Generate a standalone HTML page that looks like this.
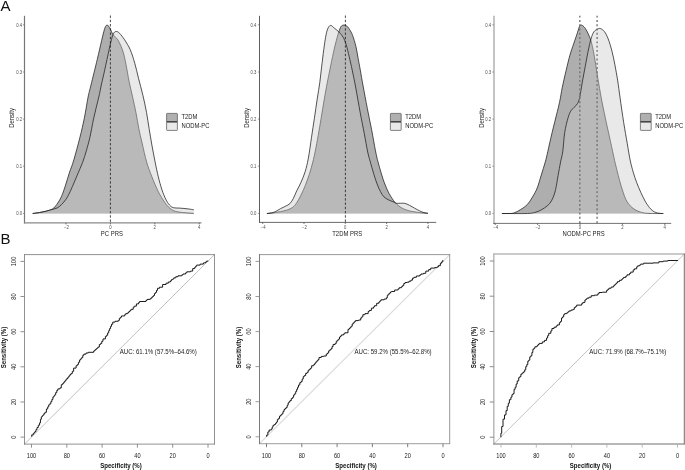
<!DOCTYPE html>
<html><head><meta charset="utf-8"><title>Figure</title>
<style>html,body{margin:0;padding:0;background:#fff;}body{width:685px;height:470px;overflow:hidden;font-family:"Liberation Sans",sans-serif;}</style></head>
<body>
<svg width="685" height="470" viewBox="0 0 685 470" style="display:block;will-change:transform">
<rect width="685" height="470" fill="#fff"/>
<g font-family="'Liberation Sans', sans-serif">
<text transform="translate(0.60 11.20)" font-size="15" fill="#111" text-anchor="start">A</text>
<text transform="translate(0.50 244.00)" font-size="15" fill="#111" text-anchor="start">B</text>
<path d="M32.7 213.5C34.2 213.3 39.0 212.7 42.0 212.1C45.0 211.5 48.4 210.8 50.5 209.9C52.6 209.1 53.4 208.5 54.8 207.0C56.2 205.5 57.7 203.2 59.0 201.1C60.3 199.0 61.2 197.2 62.4 194.3C63.5 191.5 64.7 187.7 65.9 184.0C67.1 180.3 68.3 176.1 69.6 172.1C70.9 168.1 72.1 165.8 73.8 160.0C75.5 154.2 78.2 144.3 79.9 137.4C81.7 130.5 82.9 125.0 84.3 118.3C85.7 111.6 87.0 102.5 88.1 97.0C89.2 91.5 89.5 91.2 91.0 85.0C92.5 78.8 95.4 67.2 97.2 59.7C99.0 52.2 100.5 45.3 101.7 40.3C102.9 35.3 103.6 32.2 104.3 29.8C105.0 27.4 105.3 26.8 105.8 26.0C106.3 25.2 106.8 25.1 107.3 25.2C107.8 25.3 108.4 25.8 108.9 26.4C109.4 27.0 109.9 28.0 110.4 29.1C111.0 30.2 111.5 32.0 112.2 33.2C112.9 34.5 113.8 35.4 114.8 36.6C115.8 37.8 117.0 38.2 118.3 40.6C119.6 43.0 121.5 47.0 122.8 51.0C124.1 55.0 125.0 59.4 126.0 64.5C127.0 69.6 128.0 76.0 129.1 81.5C130.2 87.0 131.6 92.3 132.7 97.4C133.8 102.5 134.9 107.1 135.9 112.3C136.9 117.5 137.8 123.4 138.8 128.5C139.8 133.6 140.8 137.4 142.1 143.0C143.4 148.6 145.0 156.3 146.6 161.9C148.2 167.5 149.9 171.8 151.9 176.8C153.9 181.8 156.2 187.4 158.3 191.7C160.4 195.9 162.8 199.5 164.7 202.3C166.6 205.1 168.2 206.8 170.0 208.3C171.8 209.8 173.0 210.6 175.3 211.3C177.6 212.0 180.7 212.3 183.8 212.6C186.9 212.9 192.1 213.2 193.8 213.3L193.8 213.5L32.7 213.5Z" fill="#aeaeae"/>
<path d="M32.7 213.5C34.2 213.3 39.0 212.7 42.0 212.1C45.0 211.5 48.4 210.8 50.5 209.9C52.6 209.1 53.4 208.5 54.8 207.0C56.2 205.5 57.7 203.2 59.0 201.1C60.3 199.0 61.2 197.2 62.4 194.3C63.5 191.5 64.7 187.7 65.9 184.0C67.1 180.3 68.3 176.1 69.6 172.1C70.9 168.1 72.1 165.8 73.8 160.0C75.5 154.2 78.2 144.3 79.9 137.4C81.7 130.5 82.9 125.0 84.3 118.3C85.7 111.6 87.0 102.5 88.1 97.0C89.2 91.5 89.5 91.2 91.0 85.0C92.5 78.8 95.4 67.2 97.2 59.7C99.0 52.2 100.5 45.3 101.7 40.3C102.9 35.3 103.6 32.2 104.3 29.8C105.0 27.4 105.3 26.8 105.8 26.0C106.3 25.2 106.8 25.1 107.3 25.2C107.8 25.3 108.4 25.8 108.9 26.4C109.4 27.0 109.9 28.0 110.4 29.1C111.0 30.2 111.5 32.0 112.2 33.2C112.9 34.5 113.8 35.4 114.8 36.6C115.8 37.8 117.0 38.2 118.3 40.6C119.6 43.0 121.5 47.0 122.8 51.0C124.1 55.0 125.0 59.4 126.0 64.5C127.0 69.6 128.0 76.0 129.1 81.5C130.2 87.0 131.6 92.3 132.7 97.4C133.8 102.5 134.9 107.1 135.9 112.3C136.9 117.5 137.8 123.4 138.8 128.5C139.8 133.6 140.8 137.4 142.1 143.0C143.4 148.6 145.0 156.3 146.6 161.9C148.2 167.5 149.9 171.8 151.9 176.8C153.9 181.8 156.2 187.4 158.3 191.7C160.4 195.9 162.8 199.5 164.7 202.3C166.6 205.1 168.2 206.8 170.0 208.3C171.8 209.8 173.0 210.6 175.3 211.3C177.6 212.0 180.7 212.3 183.8 212.6C186.9 212.9 192.1 213.2 193.8 213.3" fill="none" stroke="#1c1c1c" stroke-width="0.75"/>
<path d="M32.7 213.5C34.2 213.3 39.0 212.7 42.0 212.1C45.0 211.5 48.0 210.6 50.5 209.9C53.0 209.2 55.4 208.8 57.3 207.9C59.1 207.0 60.2 205.9 61.6 204.5C63.0 203.1 64.6 201.2 65.9 199.4C67.2 197.6 68.0 196.0 69.3 193.4C70.6 190.8 72.1 187.3 73.5 184.0C74.9 180.7 76.3 177.4 77.8 173.8C79.3 170.2 81.1 166.4 82.6 162.5C84.0 158.6 85.3 154.4 86.5 150.2C87.7 146.0 88.7 142.7 89.9 137.4C91.1 132.1 92.2 125.0 93.7 118.3C95.2 111.6 97.5 102.5 98.8 97.0C100.1 91.5 100.3 89.5 101.3 85.0C102.3 80.5 103.4 76.0 104.7 70.1C106.0 64.1 108.0 54.8 109.2 49.3C110.4 43.8 111.3 40.1 112.1 37.3C112.9 34.5 113.3 33.6 114.1 32.6C114.8 31.6 115.7 31.4 116.6 31.5C117.5 31.6 118.4 32.0 119.7 33.4C121.0 34.8 122.8 37.1 124.6 39.8C126.3 42.5 128.5 45.7 130.2 49.6C131.9 53.5 133.4 58.6 134.8 63.4C136.2 68.2 137.2 73.0 138.5 78.3C139.8 83.6 141.6 89.6 142.9 95.3C144.2 101.0 145.5 106.8 146.5 112.3C147.5 117.8 148.2 123.2 149.1 128.5C150.0 133.8 150.7 138.4 151.7 144.0C152.7 149.6 154.0 156.4 155.1 161.9C156.2 167.4 157.2 172.2 158.3 176.8C159.4 181.4 160.7 185.9 161.9 189.6C163.1 193.3 164.4 196.5 165.7 199.1C166.9 201.7 168.2 203.5 169.4 204.9C170.7 206.3 171.5 207.2 173.2 207.7C174.9 208.2 177.1 207.9 179.6 208.1C182.1 208.3 185.7 208.6 188.1 208.9C190.5 209.2 192.9 209.7 193.8 209.8L193.8 213.5L32.7 213.5Z" fill="rgba(202,202,202,0.415)"/>
<path d="M32.7 213.5C34.2 213.3 39.0 212.7 42.0 212.1C45.0 211.5 48.0 210.6 50.5 209.9C53.0 209.2 55.4 208.8 57.3 207.9C59.1 207.0 60.2 205.9 61.6 204.5C63.0 203.1 64.6 201.2 65.9 199.4C67.2 197.6 68.0 196.0 69.3 193.4C70.6 190.8 72.1 187.3 73.5 184.0C74.9 180.7 76.3 177.4 77.8 173.8C79.3 170.2 81.1 166.4 82.6 162.5C84.0 158.6 85.3 154.4 86.5 150.2C87.7 146.0 88.7 142.7 89.9 137.4C91.1 132.1 92.2 125.0 93.7 118.3C95.2 111.6 97.5 102.5 98.8 97.0C100.1 91.5 100.3 89.5 101.3 85.0C102.3 80.5 103.4 76.0 104.7 70.1C106.0 64.1 108.0 54.8 109.2 49.3C110.4 43.8 111.3 40.1 112.1 37.3C112.9 34.5 113.3 33.6 114.1 32.6C114.8 31.6 115.7 31.4 116.6 31.5C117.5 31.6 118.4 32.0 119.7 33.4C121.0 34.8 122.8 37.1 124.6 39.8C126.3 42.5 128.5 45.7 130.2 49.6C131.9 53.5 133.4 58.6 134.8 63.4C136.2 68.2 137.2 73.0 138.5 78.3C139.8 83.6 141.6 89.6 142.9 95.3C144.2 101.0 145.5 106.8 146.5 112.3C147.5 117.8 148.2 123.2 149.1 128.5C150.0 133.8 150.7 138.4 151.7 144.0C152.7 149.6 154.0 156.4 155.1 161.9C156.2 167.4 157.2 172.2 158.3 176.8C159.4 181.4 160.7 185.9 161.9 189.6C163.1 193.3 164.4 196.5 165.7 199.1C166.9 201.7 168.2 203.5 169.4 204.9C170.7 206.3 171.5 207.2 173.2 207.7C174.9 208.2 177.1 207.9 179.6 208.1C182.1 208.3 185.7 208.6 188.1 208.9C190.5 209.2 192.9 209.7 193.8 209.8" fill="none" stroke="#1c1c1c" stroke-width="0.75"/>
<line x1="110.4" y1="15.5" x2="110.4" y2="223.4" stroke="#1a1a1a" stroke-width="0.8" stroke-dasharray="2.4 1.85"/>
<line x1="24.50" y1="15.8" x2="24.50" y2="223.47" stroke="#777777" stroke-width="1.2"/>
<line x1="23.90" y1="222.85" x2="201.50" y2="222.85" stroke="#8a8a8a" stroke-width="1.25"/>
<line x1="22.9" y1="213.4" x2="24.3" y2="213.4" stroke="#555" stroke-width="0.6"/>
<text transform="translate(19.20 215.30) scale(0.900 1)" font-size="4.7" fill="#4d4d4d" text-anchor="middle">0.0</text>
<line x1="22.9" y1="166.2" x2="24.3" y2="166.2" stroke="#555" stroke-width="0.6"/>
<text transform="translate(19.20 168.15) scale(0.900 1)" font-size="4.7" fill="#4d4d4d" text-anchor="middle">0.1</text>
<line x1="22.9" y1="119.1" x2="24.3" y2="119.1" stroke="#555" stroke-width="0.6"/>
<text transform="translate(19.20 121.00) scale(0.900 1)" font-size="4.7" fill="#4d4d4d" text-anchor="middle">0.2</text>
<line x1="22.9" y1="72.0" x2="24.3" y2="72.0" stroke="#555" stroke-width="0.6"/>
<text transform="translate(19.20 73.85) scale(0.900 1)" font-size="4.7" fill="#4d4d4d" text-anchor="middle">0.3</text>
<line x1="22.9" y1="24.8" x2="24.3" y2="24.8" stroke="#555" stroke-width="0.6"/>
<text transform="translate(19.20 26.70) scale(0.900 1)" font-size="4.7" fill="#4d4d4d" text-anchor="middle">0.4</text>
<line x1="66.0" y1="222.85" x2="66.0" y2="224.45" stroke="#444" stroke-width="0.7"/>
<text transform="translate(66.40 228.90) scale(0.900 1)" font-size="4.7" fill="#4d4d4d" text-anchor="middle">−2</text>
<line x1="110.4" y1="222.85" x2="110.4" y2="224.45" stroke="#444" stroke-width="0.7"/>
<text transform="translate(110.40 228.90) scale(0.900 1)" font-size="4.7" fill="#4d4d4d" text-anchor="middle">0</text>
<line x1="154.8" y1="222.85" x2="154.8" y2="224.45" stroke="#444" stroke-width="0.7"/>
<text transform="translate(154.80 228.90) scale(0.900 1)" font-size="4.7" fill="#4d4d4d" text-anchor="middle">2</text>
<line x1="199.2" y1="222.85" x2="199.2" y2="224.45" stroke="#444" stroke-width="0.7"/>
<text transform="translate(199.20 228.90) scale(0.900 1)" font-size="4.7" fill="#4d4d4d" text-anchor="middle">4</text>
<text transform="translate(111.90 235.50) scale(0.900 1)" font-size="6.6" fill="#222" text-anchor="middle">PC PRS</text>
<text transform="translate(14.20 117.90) rotate(-90) scale(0.900 1)" font-size="6.6" fill="#222" text-anchor="middle">Density</text>
<rect x="166.6" y="113.4" width="10.8" height="8.5" rx="0.6" fill="#b0b0b0" stroke="#505050" stroke-width="0.7"/>
<rect x="166.6" y="121.9" width="10.8" height="8.5" rx="0.6" fill="#e9e9e9" stroke="#505050" stroke-width="0.7"/>
<line x1="166.6" y1="121.9" x2="177.4" y2="121.9" stroke="#2a2a2a" stroke-width="0.95"/>
<text transform="translate(181.50 118.90) scale(0.900 1)" font-size="6.5" fill="#222" text-anchor="start">T2DM</text>
<text transform="translate(181.50 127.70) scale(0.900 1)" font-size="6.5" fill="#222" text-anchor="start">NODM-PC</text>
<path d="M266.9 213.5C268.0 213.4 271.4 213.1 273.7 212.8C276.0 212.5 278.2 212.1 280.5 211.6C282.8 211.1 285.3 210.6 287.3 209.9C289.3 209.2 290.8 208.7 292.4 207.5C294.0 206.3 295.3 204.9 296.7 202.8C298.1 200.7 299.6 197.9 301.0 195.1C302.4 192.2 303.8 189.2 305.2 185.7C306.6 182.1 308.2 177.8 309.5 173.8C310.8 169.9 311.8 165.8 312.8 162.0C313.8 158.2 314.4 155.3 315.3 150.9C316.2 146.5 317.2 140.9 318.2 135.5C319.2 130.1 320.1 124.4 321.1 118.3C322.1 112.2 323.3 105.1 324.3 99.1C325.3 93.1 326.4 87.3 327.3 82.5C328.2 77.7 328.8 75.1 329.8 70.1C330.8 65.0 332.3 57.7 333.5 52.2C334.7 46.7 336.2 41.0 337.2 37.3C338.2 33.6 338.8 32.0 339.4 30.2C340.0 28.4 340.5 27.4 341.0 26.6C341.5 25.8 342.0 25.6 342.6 25.3C343.2 25.1 344.0 25.0 344.6 25.1C345.2 25.2 345.8 25.5 346.3 25.8C346.9 26.1 347.3 26.5 347.9 27.1C348.5 27.8 348.9 28.3 349.7 29.7C350.5 31.1 351.6 32.6 352.6 35.4C353.6 38.2 355.0 42.5 355.9 46.3C356.8 50.1 357.4 54.2 358.1 58.2C358.8 62.2 359.5 65.5 360.3 70.1C361.1 74.7 361.9 79.6 363.1 86.0C364.3 92.4 365.9 101.0 367.3 108.3C368.7 115.6 370.2 122.5 371.6 129.6C373.0 136.7 374.4 145.5 375.5 150.9C376.6 156.3 377.0 158.1 378.0 161.9C379.0 165.7 380.3 170.1 381.4 173.8C382.5 177.5 383.5 180.7 384.8 184.0C386.1 187.3 387.6 190.7 389.0 193.4C390.4 196.1 392.0 198.4 393.3 200.2C394.6 202.0 395.4 202.9 396.7 204.1C398.0 205.3 399.4 206.5 401.0 207.5C402.6 208.5 404.1 209.2 406.1 209.9C408.1 210.6 410.6 211.2 412.9 211.6C415.2 212.0 417.2 212.3 419.7 212.6C422.2 212.9 426.5 213.2 427.9 213.3L427.9 213.5L266.9 213.5Z" fill="#aeaeae"/>
<path d="M266.9 213.5C268.0 213.4 271.4 213.1 273.7 212.8C276.0 212.5 278.2 212.1 280.5 211.6C282.8 211.1 285.3 210.6 287.3 209.9C289.3 209.2 290.8 208.7 292.4 207.5C294.0 206.3 295.3 204.9 296.7 202.8C298.1 200.7 299.6 197.9 301.0 195.1C302.4 192.2 303.8 189.2 305.2 185.7C306.6 182.1 308.2 177.8 309.5 173.8C310.8 169.9 311.8 165.8 312.8 162.0C313.8 158.2 314.4 155.3 315.3 150.9C316.2 146.5 317.2 140.9 318.2 135.5C319.2 130.1 320.1 124.4 321.1 118.3C322.1 112.2 323.3 105.1 324.3 99.1C325.3 93.1 326.4 87.3 327.3 82.5C328.2 77.7 328.8 75.1 329.8 70.1C330.8 65.0 332.3 57.7 333.5 52.2C334.7 46.7 336.2 41.0 337.2 37.3C338.2 33.6 338.8 32.0 339.4 30.2C340.0 28.4 340.5 27.4 341.0 26.6C341.5 25.8 342.0 25.6 342.6 25.3C343.2 25.1 344.0 25.0 344.6 25.1C345.2 25.2 345.8 25.5 346.3 25.8C346.9 26.1 347.3 26.5 347.9 27.1C348.5 27.8 348.9 28.3 349.7 29.7C350.5 31.1 351.6 32.6 352.6 35.4C353.6 38.2 355.0 42.5 355.9 46.3C356.8 50.1 357.4 54.2 358.1 58.2C358.8 62.2 359.5 65.5 360.3 70.1C361.1 74.7 361.9 79.6 363.1 86.0C364.3 92.4 365.9 101.0 367.3 108.3C368.7 115.6 370.2 122.5 371.6 129.6C373.0 136.7 374.4 145.5 375.5 150.9C376.6 156.3 377.0 158.1 378.0 161.9C379.0 165.7 380.3 170.1 381.4 173.8C382.5 177.5 383.5 180.7 384.8 184.0C386.1 187.3 387.6 190.7 389.0 193.4C390.4 196.1 392.0 198.4 393.3 200.2C394.6 202.0 395.4 202.9 396.7 204.1C398.0 205.3 399.4 206.5 401.0 207.5C402.6 208.5 404.1 209.2 406.1 209.9C408.1 210.6 410.6 211.2 412.9 211.6C415.2 212.0 417.2 212.3 419.7 212.6C422.2 212.9 426.5 213.2 427.9 213.3" fill="none" stroke="#1c1c1c" stroke-width="0.75"/>
<path d="M266.9 213.5C267.6 213.4 269.8 213.3 271.2 213.0C272.6 212.7 273.8 212.3 275.4 211.6C276.9 210.9 278.8 209.6 280.5 208.7C282.2 207.8 284.0 207.0 285.6 206.2C287.2 205.3 288.6 204.9 289.9 203.6C291.2 202.3 292.2 200.6 293.3 198.5C294.4 196.4 295.4 193.6 296.7 190.9C298.0 188.2 299.6 185.5 301.0 182.3C302.4 179.1 304.0 175.5 305.2 171.5C306.4 167.5 307.2 164.2 308.3 158.5C309.4 152.8 310.5 144.1 311.5 137.4C312.5 130.7 313.4 124.7 314.4 118.3C315.3 111.9 316.3 105.1 317.2 99.1C318.1 93.1 319.1 87.8 319.8 82.5C320.5 77.2 320.9 72.6 321.6 67.1C322.3 61.6 323.1 54.3 323.8 49.3C324.5 44.3 325.0 40.7 325.6 37.3C326.2 33.9 326.8 31.1 327.6 29.1C328.4 27.1 329.4 25.6 330.5 25.4C331.6 25.2 332.9 27.0 334.3 28.1C335.7 29.2 337.5 30.6 339.0 32.1C340.5 33.6 342.0 35.2 343.2 37.3C344.4 39.4 345.2 41.6 346.2 44.8C347.2 48.0 348.2 52.5 349.2 56.7C350.2 60.9 351.1 64.9 352.2 70.1C353.3 75.3 354.5 80.9 355.8 88.0C357.1 95.1 358.8 105.0 360.2 112.6C361.6 120.2 363.1 127.2 364.3 133.8C365.6 140.4 366.7 147.3 367.7 152.0C368.7 156.7 369.3 158.3 370.3 161.9C371.3 165.5 372.6 170.1 373.7 173.8C374.8 177.5 376.0 181.0 377.1 184.0C378.2 187.0 379.4 189.6 380.5 191.7C381.6 193.8 382.6 195.5 383.9 196.8C385.2 198.1 386.6 198.8 388.2 199.7C389.8 200.5 391.9 201.3 393.3 201.9C394.7 202.5 394.9 203.1 396.7 203.3C398.5 203.5 402.3 203.0 404.4 203.3C406.5 203.6 407.8 204.5 409.5 205.3C411.2 206.1 412.9 207.3 414.6 208.2C416.3 209.1 418.1 210.2 419.7 210.9C421.2 211.6 422.5 212.2 423.9 212.6C425.3 213.0 427.2 213.2 427.9 213.3L427.9 213.5L266.9 213.5Z" fill="rgba(202,202,202,0.415)"/>
<path d="M266.9 213.5C267.6 213.4 269.8 213.3 271.2 213.0C272.6 212.7 273.8 212.3 275.4 211.6C276.9 210.9 278.8 209.6 280.5 208.7C282.2 207.8 284.0 207.0 285.6 206.2C287.2 205.3 288.6 204.9 289.9 203.6C291.2 202.3 292.2 200.6 293.3 198.5C294.4 196.4 295.4 193.6 296.7 190.9C298.0 188.2 299.6 185.5 301.0 182.3C302.4 179.1 304.0 175.5 305.2 171.5C306.4 167.5 307.2 164.2 308.3 158.5C309.4 152.8 310.5 144.1 311.5 137.4C312.5 130.7 313.4 124.7 314.4 118.3C315.3 111.9 316.3 105.1 317.2 99.1C318.1 93.1 319.1 87.8 319.8 82.5C320.5 77.2 320.9 72.6 321.6 67.1C322.3 61.6 323.1 54.3 323.8 49.3C324.5 44.3 325.0 40.7 325.6 37.3C326.2 33.9 326.8 31.1 327.6 29.1C328.4 27.1 329.4 25.6 330.5 25.4C331.6 25.2 332.9 27.0 334.3 28.1C335.7 29.2 337.5 30.6 339.0 32.1C340.5 33.6 342.0 35.2 343.2 37.3C344.4 39.4 345.2 41.6 346.2 44.8C347.2 48.0 348.2 52.5 349.2 56.7C350.2 60.9 351.1 64.9 352.2 70.1C353.3 75.3 354.5 80.9 355.8 88.0C357.1 95.1 358.8 105.0 360.2 112.6C361.6 120.2 363.1 127.2 364.3 133.8C365.6 140.4 366.7 147.3 367.7 152.0C368.7 156.7 369.3 158.3 370.3 161.9C371.3 165.5 372.6 170.1 373.7 173.8C374.8 177.5 376.0 181.0 377.1 184.0C378.2 187.0 379.4 189.6 380.5 191.7C381.6 193.8 382.6 195.5 383.9 196.8C385.2 198.1 386.6 198.8 388.2 199.7C389.8 200.5 391.9 201.3 393.3 201.9C394.7 202.5 394.9 203.1 396.7 203.3C398.5 203.5 402.3 203.0 404.4 203.3C406.5 203.6 407.8 204.5 409.5 205.3C411.2 206.1 412.9 207.3 414.6 208.2C416.3 209.1 418.1 210.2 419.7 210.9C421.2 211.6 422.5 212.2 423.9 212.6C425.3 213.0 427.2 213.2 427.9 213.3" fill="none" stroke="#1c1c1c" stroke-width="0.75"/>
<line x1="345.4" y1="15.5" x2="345.4" y2="223.4" stroke="#1a1a1a" stroke-width="0.8" stroke-dasharray="2.4 1.85"/>
<line x1="259.50" y1="15.8" x2="259.50" y2="222.88" stroke="#5e5e5e" stroke-width="1.0"/>
<line x1="259.00" y1="222.40" x2="436.20" y2="222.40" stroke="#626262" stroke-width="0.95"/>
<line x1="257.9" y1="213.4" x2="259.3" y2="213.4" stroke="#555" stroke-width="0.6"/>
<text transform="translate(253.50 215.30) scale(0.900 1)" font-size="4.7" fill="#4d4d4d" text-anchor="middle">0.0</text>
<line x1="257.9" y1="166.2" x2="259.3" y2="166.2" stroke="#555" stroke-width="0.6"/>
<text transform="translate(253.50 168.15) scale(0.900 1)" font-size="4.7" fill="#4d4d4d" text-anchor="middle">0.1</text>
<line x1="257.9" y1="119.1" x2="259.3" y2="119.1" stroke="#555" stroke-width="0.6"/>
<text transform="translate(253.50 121.00) scale(0.900 1)" font-size="4.7" fill="#4d4d4d" text-anchor="middle">0.2</text>
<line x1="257.9" y1="72.0" x2="259.3" y2="72.0" stroke="#555" stroke-width="0.6"/>
<text transform="translate(253.50 73.85) scale(0.900 1)" font-size="4.7" fill="#4d4d4d" text-anchor="middle">0.3</text>
<line x1="257.9" y1="24.8" x2="259.3" y2="24.8" stroke="#555" stroke-width="0.6"/>
<text transform="translate(253.50 26.70) scale(0.900 1)" font-size="4.7" fill="#4d4d4d" text-anchor="middle">0.4</text>
<line x1="262.7" y1="222.40" x2="262.7" y2="224.00" stroke="#444" stroke-width="0.7"/>
<text transform="translate(263.10 228.90) scale(0.900 1)" font-size="4.7" fill="#4d4d4d" text-anchor="middle">−4</text>
<line x1="304.0" y1="222.40" x2="304.0" y2="224.00" stroke="#444" stroke-width="0.7"/>
<text transform="translate(304.40 228.90) scale(0.900 1)" font-size="4.7" fill="#4d4d4d" text-anchor="middle">−2</text>
<line x1="345.3" y1="222.40" x2="345.3" y2="224.00" stroke="#444" stroke-width="0.7"/>
<text transform="translate(345.30 228.90) scale(0.900 1)" font-size="4.7" fill="#4d4d4d" text-anchor="middle">0</text>
<line x1="386.6" y1="222.40" x2="386.6" y2="224.00" stroke="#444" stroke-width="0.7"/>
<text transform="translate(386.60 228.90) scale(0.900 1)" font-size="4.7" fill="#4d4d4d" text-anchor="middle">2</text>
<line x1="427.9" y1="222.40" x2="427.9" y2="224.00" stroke="#444" stroke-width="0.7"/>
<text transform="translate(427.90 228.90) scale(0.900 1)" font-size="4.7" fill="#4d4d4d" text-anchor="middle">4</text>
<text transform="translate(347.20 235.50) scale(0.900 1)" font-size="6.6" fill="#222" text-anchor="middle">T2DM PRS</text>
<text transform="translate(249.00 117.90) rotate(-90) scale(0.900 1)" font-size="6.6" fill="#222" text-anchor="middle">Density</text>
<rect x="390.4" y="113.4" width="10.8" height="8.5" rx="0.6" fill="#b0b0b0" stroke="#505050" stroke-width="0.7"/>
<rect x="390.4" y="121.9" width="10.8" height="8.5" rx="0.6" fill="#e9e9e9" stroke="#505050" stroke-width="0.7"/>
<line x1="390.4" y1="121.9" x2="401.2" y2="121.9" stroke="#2a2a2a" stroke-width="0.95"/>
<text transform="translate(405.30 118.90) scale(0.900 1)" font-size="6.5" fill="#222" text-anchor="start">T2DM</text>
<text transform="translate(405.30 127.70) scale(0.900 1)" font-size="6.5" fill="#222" text-anchor="start">NODM-PC</text>
<path d="M501.9 213.5C502.8 213.5 505.0 213.6 507.0 213.5C509.0 213.4 511.5 213.7 513.8 213.0C516.1 212.3 518.3 211.0 520.6 209.6C522.9 208.2 525.4 206.6 527.4 204.5C529.4 202.4 531.0 199.6 532.6 196.8C534.2 194.1 535.8 191.6 537.2 188.0C538.7 184.4 539.9 179.3 541.3 175.0C542.6 170.7 544.2 165.8 545.3 161.9C546.4 158.0 546.7 156.4 547.8 151.5C548.9 146.6 550.5 139.3 552.1 132.6C553.7 125.9 556.1 116.7 557.4 111.3C558.7 105.9 559.2 103.9 560.0 100.0C560.8 96.1 561.2 92.7 562.2 87.8C563.2 82.9 564.8 75.9 566.1 70.5C567.4 65.1 568.6 59.7 569.9 55.2C571.2 50.7 572.4 47.5 573.7 43.7C575.0 39.9 576.6 35.2 577.6 32.2C578.6 29.2 579.1 26.7 579.9 25.6C580.7 24.5 581.7 25.1 582.6 25.6C583.5 26.1 584.5 27.3 585.4 28.6C586.3 29.9 587.2 31.6 588.1 33.6C589.0 35.6 590.0 37.6 591.0 40.9C592.0 44.2 592.9 48.7 593.8 53.3C594.7 57.9 595.5 63.5 596.3 68.6C597.1 73.7 597.8 78.3 598.8 84.0C599.8 89.7 601.0 96.6 602.2 103.0C603.5 109.4 604.9 116.1 606.3 122.6C607.7 129.0 609.1 135.4 610.5 141.7C611.9 148.0 613.5 155.7 614.6 160.5C615.7 165.3 616.2 167.1 617.0 170.4C617.8 173.8 618.8 177.5 619.6 180.6C620.5 183.7 621.2 186.4 622.1 189.1C623.0 191.8 623.9 194.7 624.7 196.8C625.6 198.9 626.2 200.3 627.2 201.9C628.2 203.5 629.3 204.9 630.6 206.2C631.9 207.5 633.5 208.7 634.9 209.6C636.3 210.5 637.5 211.0 639.1 211.6C640.7 212.2 642.3 212.7 644.3 213.0C646.3 213.3 647.9 213.4 651.1 213.5C654.3 213.6 661.3 213.5 663.3 213.5L663.3 213.5L501.9 213.5Z" fill="#aeaeae"/>
<path d="M501.9 213.5C502.8 213.5 505.0 213.6 507.0 213.5C509.0 213.4 511.5 213.7 513.8 213.0C516.1 212.3 518.3 211.0 520.6 209.6C522.9 208.2 525.4 206.6 527.4 204.5C529.4 202.4 531.0 199.6 532.6 196.8C534.2 194.1 535.8 191.6 537.2 188.0C538.7 184.4 539.9 179.3 541.3 175.0C542.6 170.7 544.2 165.8 545.3 161.9C546.4 158.0 546.7 156.4 547.8 151.5C548.9 146.6 550.5 139.3 552.1 132.6C553.7 125.9 556.1 116.7 557.4 111.3C558.7 105.9 559.2 103.9 560.0 100.0C560.8 96.1 561.2 92.7 562.2 87.8C563.2 82.9 564.8 75.9 566.1 70.5C567.4 65.1 568.6 59.7 569.9 55.2C571.2 50.7 572.4 47.5 573.7 43.7C575.0 39.9 576.6 35.2 577.6 32.2C578.6 29.2 579.1 26.7 579.9 25.6C580.7 24.5 581.7 25.1 582.6 25.6C583.5 26.1 584.5 27.3 585.4 28.6C586.3 29.9 587.2 31.6 588.1 33.6C589.0 35.6 590.0 37.6 591.0 40.9C592.0 44.2 592.9 48.7 593.8 53.3C594.7 57.9 595.5 63.5 596.3 68.6C597.1 73.7 597.8 78.3 598.8 84.0C599.8 89.7 601.0 96.6 602.2 103.0C603.5 109.4 604.9 116.1 606.3 122.6C607.7 129.0 609.1 135.4 610.5 141.7C611.9 148.0 613.5 155.7 614.6 160.5C615.7 165.3 616.2 167.1 617.0 170.4C617.8 173.8 618.8 177.5 619.6 180.6C620.5 183.7 621.2 186.4 622.1 189.1C623.0 191.8 623.9 194.7 624.7 196.8C625.6 198.9 626.2 200.3 627.2 201.9C628.2 203.5 629.3 204.9 630.6 206.2C631.9 207.5 633.5 208.7 634.9 209.6C636.3 210.5 637.5 211.0 639.1 211.6C640.7 212.2 642.3 212.7 644.3 213.0C646.3 213.3 647.9 213.4 651.1 213.5C654.3 213.6 661.3 213.5 663.3 213.5" fill="none" stroke="#1c1c1c" stroke-width="0.75"/>
<path d="M501.9 213.5C506.1 213.5 522.0 213.7 527.4 213.5C532.8 213.3 532.3 213.0 534.3 212.6C536.3 212.2 537.7 211.6 539.4 210.8C541.1 210.0 542.8 209.1 544.5 207.9C546.2 206.7 548.2 205.3 549.6 203.6C551.0 201.9 552.0 200.0 553.0 197.7C554.0 195.3 554.8 193.2 555.6 189.5C556.5 185.8 557.3 180.1 558.1 175.5C558.9 170.9 559.8 166.0 560.6 161.9C561.4 157.8 562.1 156.1 562.8 151.2C563.5 146.3 563.8 138.2 564.7 132.6C565.6 127.0 567.0 121.4 568.1 117.7C569.2 114.0 569.9 112.3 571.3 110.2C572.7 108.1 575.2 106.9 576.6 104.9C578.0 102.9 578.7 101.8 579.6 98.0C580.5 94.2 581.4 87.2 582.3 82.0C583.2 76.8 584.2 71.8 585.2 66.7C586.2 61.6 587.1 56.0 588.1 51.4C589.1 46.8 590.0 42.1 591.0 38.9C592.0 35.6 592.7 33.5 593.8 31.9C594.9 30.2 596.6 29.6 597.7 29.0C598.8 28.4 599.4 28.2 600.5 28.6C601.6 29.0 603.1 29.9 604.4 31.6C605.7 33.3 606.9 35.6 608.2 38.9C609.5 42.2 610.9 47.1 612.0 51.4C613.1 55.7 614.0 60.0 614.9 64.8C615.8 69.6 616.7 74.6 617.6 80.1C618.5 85.6 619.1 90.9 620.1 98.0C621.1 105.1 622.5 115.0 623.7 122.6C624.9 130.2 626.2 137.4 627.3 143.8C628.4 150.2 629.3 156.2 630.3 160.9C631.3 165.6 632.2 168.5 633.2 172.1C634.2 175.7 635.3 178.9 636.6 182.3C637.9 185.7 639.5 189.5 640.9 192.6C642.3 195.7 643.7 198.6 645.1 201.1C646.5 203.6 648.1 205.9 649.4 207.5C650.7 209.1 651.7 210.1 652.8 210.9C653.9 211.8 655.1 212.2 656.2 212.6C657.3 213.0 658.4 213.2 659.6 213.3C660.8 213.5 662.7 213.5 663.3 213.5L663.3 213.5L501.9 213.5Z" fill="rgba(202,202,202,0.415)"/>
<path d="M501.9 213.5C506.1 213.5 522.0 213.7 527.4 213.5C532.8 213.3 532.3 213.0 534.3 212.6C536.3 212.2 537.7 211.6 539.4 210.8C541.1 210.0 542.8 209.1 544.5 207.9C546.2 206.7 548.2 205.3 549.6 203.6C551.0 201.9 552.0 200.0 553.0 197.7C554.0 195.3 554.8 193.2 555.6 189.5C556.5 185.8 557.3 180.1 558.1 175.5C558.9 170.9 559.8 166.0 560.6 161.9C561.4 157.8 562.1 156.1 562.8 151.2C563.5 146.3 563.8 138.2 564.7 132.6C565.6 127.0 567.0 121.4 568.1 117.7C569.2 114.0 569.9 112.3 571.3 110.2C572.7 108.1 575.2 106.9 576.6 104.9C578.0 102.9 578.7 101.8 579.6 98.0C580.5 94.2 581.4 87.2 582.3 82.0C583.2 76.8 584.2 71.8 585.2 66.7C586.2 61.6 587.1 56.0 588.1 51.4C589.1 46.8 590.0 42.1 591.0 38.9C592.0 35.6 592.7 33.5 593.8 31.9C594.9 30.2 596.6 29.6 597.7 29.0C598.8 28.4 599.4 28.2 600.5 28.6C601.6 29.0 603.1 29.9 604.4 31.6C605.7 33.3 606.9 35.6 608.2 38.9C609.5 42.2 610.9 47.1 612.0 51.4C613.1 55.7 614.0 60.0 614.9 64.8C615.8 69.6 616.7 74.6 617.6 80.1C618.5 85.6 619.1 90.9 620.1 98.0C621.1 105.1 622.5 115.0 623.7 122.6C624.9 130.2 626.2 137.4 627.3 143.8C628.4 150.2 629.3 156.2 630.3 160.9C631.3 165.6 632.2 168.5 633.2 172.1C634.2 175.7 635.3 178.9 636.6 182.3C637.9 185.7 639.5 189.5 640.9 192.6C642.3 195.7 643.7 198.6 645.1 201.1C646.5 203.6 648.1 205.9 649.4 207.5C650.7 209.1 651.7 210.1 652.8 210.9C653.9 211.8 655.1 212.2 656.2 212.6C657.3 213.0 658.4 213.2 659.6 213.3C660.8 213.5 662.7 213.5 663.3 213.5" fill="none" stroke="#1c1c1c" stroke-width="0.75"/>
<line x1="579.8" y1="15.7" x2="579.8" y2="223.4" stroke="#747474" stroke-width="1.4" stroke-dasharray="1.9 2.38"/>
<line x1="597.1" y1="15.7" x2="597.1" y2="223.4" stroke="#747474" stroke-width="1.4" stroke-dasharray="1.9 2.38"/>
<line x1="494.00" y1="15.8" x2="494.00" y2="223.88" stroke="#b0b0b0" stroke-width="1.5"/>
<line x1="493.25" y1="223.40" x2="671.20" y2="223.40" stroke="#6a6a6a" stroke-width="0.95"/>
<line x1="492.4" y1="213.4" x2="493.8" y2="213.4" stroke="#555" stroke-width="0.6"/>
<text transform="translate(488.20 215.30) scale(0.900 1)" font-size="4.7" fill="#4d4d4d" text-anchor="middle">0.0</text>
<line x1="492.4" y1="166.2" x2="493.8" y2="166.2" stroke="#555" stroke-width="0.6"/>
<text transform="translate(488.20 168.15) scale(0.900 1)" font-size="4.7" fill="#4d4d4d" text-anchor="middle">0.1</text>
<line x1="492.4" y1="119.1" x2="493.8" y2="119.1" stroke="#555" stroke-width="0.6"/>
<text transform="translate(488.20 121.00) scale(0.900 1)" font-size="4.7" fill="#4d4d4d" text-anchor="middle">0.2</text>
<line x1="492.4" y1="72.0" x2="493.8" y2="72.0" stroke="#555" stroke-width="0.6"/>
<text transform="translate(488.20 73.85) scale(0.900 1)" font-size="4.7" fill="#4d4d4d" text-anchor="middle">0.3</text>
<line x1="492.4" y1="24.8" x2="493.8" y2="24.8" stroke="#555" stroke-width="0.6"/>
<text transform="translate(488.20 26.70) scale(0.900 1)" font-size="4.7" fill="#4d4d4d" text-anchor="middle">0.4</text>
<line x1="495.2" y1="223.40" x2="495.2" y2="225.00" stroke="#444" stroke-width="0.7"/>
<text transform="translate(495.60 228.90) scale(0.900 1)" font-size="4.7" fill="#4d4d4d" text-anchor="middle">−4</text>
<line x1="537.6" y1="223.40" x2="537.6" y2="225.00" stroke="#444" stroke-width="0.7"/>
<text transform="translate(538.00 228.90) scale(0.900 1)" font-size="4.7" fill="#4d4d4d" text-anchor="middle">−2</text>
<line x1="580.0" y1="223.40" x2="580.0" y2="225.00" stroke="#444" stroke-width="0.7"/>
<text transform="translate(580.00 228.90) scale(0.900 1)" font-size="4.7" fill="#4d4d4d" text-anchor="middle">0</text>
<line x1="622.4" y1="223.40" x2="622.4" y2="225.00" stroke="#444" stroke-width="0.7"/>
<text transform="translate(622.40 228.90) scale(0.900 1)" font-size="4.7" fill="#4d4d4d" text-anchor="middle">2</text>
<line x1="664.8" y1="223.40" x2="664.8" y2="225.00" stroke="#444" stroke-width="0.7"/>
<text transform="translate(664.80 228.90) scale(0.900 1)" font-size="4.7" fill="#4d4d4d" text-anchor="middle">4</text>
<text transform="translate(583.70 235.50) scale(0.900 1)" font-size="6.6" fill="#222" text-anchor="middle">NODM-PC PRS</text>
<text transform="translate(483.70 117.90) rotate(-90) scale(0.900 1)" font-size="6.6" fill="#222" text-anchor="middle">Density</text>
<rect x="640.4" y="113.4" width="10.8" height="8.5" rx="0.6" fill="#b0b0b0" stroke="#505050" stroke-width="0.7"/>
<rect x="640.4" y="121.9" width="10.8" height="8.5" rx="0.6" fill="#e9e9e9" stroke="#505050" stroke-width="0.7"/>
<line x1="640.4" y1="121.9" x2="651.2" y2="121.9" stroke="#2a2a2a" stroke-width="0.95"/>
<text transform="translate(655.30 118.90) scale(0.900 1)" font-size="6.5" fill="#222" text-anchor="start">T2DM</text>
<text transform="translate(655.30 127.70) scale(0.900 1)" font-size="6.5" fill="#222" text-anchor="start">NODM-PC</text>
<line x1="24.5" y1="444.1" x2="214.5" y2="254.6" stroke="#8c8c8c" stroke-width="0.55"/>
<path d="M31.70 436.20L31.70 434.90L33.20 434.90L33.20 433.60L34.05 433.60L34.05 432.60L34.90 432.60L34.90 431.62L35.95 431.62L35.95 429.68L37.00 429.68L37.00 427.52L38.30 427.52L38.30 425.18L39.60 425.18L39.60 422.83L40.45 422.83L40.45 419.33L41.30 419.33L41.30 417.00L42.15 417.00L42.15 415.95L43.00 415.95L43.00 414.90L44.05 414.90L44.05 413.40L45.10 413.40L45.10 412.30L46.40 412.30L46.40 409.00L47.70 409.00L47.70 406.86L48.75 406.86L48.75 404.77L49.80 404.77L49.80 403.73L50.85 403.73L50.85 401.64L51.90 401.64L51.90 399.38L52.95 399.38L52.95 396.93L54.00 396.93L54.00 395.70L54.85 395.70L54.85 394.70L55.70 394.70L55.70 392.55L56.80 392.55L56.80 390.40L57.87 390.40L57.87 388.90L60.00 388.90L60.00 387.84L61.30 387.84L61.30 384.66L62.60 384.66L62.60 383.60L63.63 383.60L63.63 382.33L64.67 382.33L64.67 381.07L65.70 381.07L65.70 379.80L66.80 379.80L66.80 378.50L67.90 378.50L67.90 377.20L68.97 377.20L68.97 375.85L70.03 375.85L70.03 374.50L71.10 374.50L71.10 373.43L72.37 373.43L72.37 371.30L73.63 371.30L73.63 368.10L76.08 368.10L76.08 365.77L77.25 365.77L77.25 364.60L78.42 364.60L78.42 362.27L79.60 362.27L79.60 359.93L80.67 359.93L80.67 358.75L81.73 358.75L81.73 357.57L82.80 357.57L82.80 355.27L83.87 355.27L83.87 354.13L86.00 354.13L86.00 353.00L88.30 353.00L88.30 352.30L93.67 352.30L93.67 351.00L94.70 351.00L94.70 350.00L95.83 350.00L95.83 349.00L96.97 349.00L96.97 348.00L98.10 348.00L98.10 347.00L99.35 347.00L99.35 344.50L100.60 344.50L100.60 343.43L101.80 343.43L101.80 341.27L103.00 341.27L103.00 338.93L105.40 338.93L105.40 336.40L106.60 336.40L106.60 335.22L107.65 335.22L107.65 332.88L108.70 332.88L108.70 330.63L109.63 330.63L109.63 328.50L110.57 328.50L110.57 326.37L111.50 326.37L111.50 324.23L112.75 324.23L112.75 322.10L115.08 322.10L115.08 321.25L118.30 321.25L118.30 320.40L119.37 320.40L119.37 318.27L120.43 318.27L120.43 317.20L121.50 317.20L121.50 315.95L124.65 315.95L124.65 314.70L125.70 314.70L125.70 313.62L127.86 313.62L127.86 312.55L128.94 312.55L128.94 311.47L130.02 311.47L130.02 310.40L131.10 310.40L131.10 309.34L133.22 309.34L133.22 307.22L134.28 307.22L134.28 306.16L136.40 306.16L136.40 303.90L138.50 303.90L138.50 302.70L139.55 302.70L139.55 301.50L145.95 301.50L145.95 300.45L147.00 300.45L147.00 299.40L150.20 299.40L150.20 298.70L151.30 298.70L151.30 297.65L152.37 297.65L152.37 296.60L153.43 296.60L153.43 295.55L154.50 295.55L154.50 293.47L155.50 293.47L155.50 292.43L156.50 292.43L156.50 290.37L157.50 290.37L157.50 288.30L159.50 288.30L159.50 287.20L162.60 287.20L162.60 284.50L166.00 284.50L166.00 283.20L168.30 283.20L168.30 282.00L170.43 282.00L170.43 280.80L171.50 280.80L171.50 279.60L172.65 279.60L172.65 279.00L173.80 279.00L173.80 277.85L175.80 277.85L175.80 276.70L178.03 276.70L178.03 275.80L181.77 275.80L181.77 274.90L183.03 274.90L183.03 274.00L185.53 274.00L185.53 272.90L186.77 272.90L186.77 271.80L190.47 271.80L190.47 271.10L192.70 271.10L192.70 268.57L194.70 268.57L194.70 267.30L195.70 267.30L195.70 266.20L196.70 266.20L196.70 265.10L200.17 265.10L200.17 264.10L203.40 264.10L203.40 262.90L205.53 262.90L205.53 262.00L206.67 262.00L206.67 261.10L207.80 261.10" fill="none" stroke="#1a1a1a" stroke-width="1.0" stroke-linejoin="miter" stroke-linecap="square"/>
<line x1="24.5" y1="254.2" x2="24.5" y2="444.5" stroke="#7d7d7d" stroke-width="0.85"/>
<line x1="24.1" y1="254.6" x2="214.9" y2="254.6" stroke="#7d7d7d" stroke-width="0.85"/>
<line x1="214.5" y1="254.2" x2="214.5" y2="444.5" stroke="#7d7d7d" stroke-width="0.85"/>
<line x1="24.1" y1="444.1" x2="214.9" y2="444.1" stroke="#7d7d7d" stroke-width="0.85"/>
<line x1="31.5" y1="444.1" x2="31.5" y2="447.7" stroke="#7d7d7d" stroke-width="0.85"/>
<text transform="translate(31.50 457.60) scale(0.900 1)" font-size="6.3" fill="#222" text-anchor="middle">100</text>
<line x1="20.5" y1="437.1" x2="24.5" y2="437.1" stroke="#7d7d7d" stroke-width="0.85"/>
<text transform="translate(16.25 437.10) rotate(-90) scale(0.900 1)" font-size="6.3" fill="#222" text-anchor="middle">0</text>
<line x1="66.8" y1="444.1" x2="66.8" y2="447.7" stroke="#7d7d7d" stroke-width="0.85"/>
<text transform="translate(66.80 457.60) scale(0.900 1)" font-size="6.3" fill="#222" text-anchor="middle">80</text>
<line x1="20.5" y1="402.0" x2="24.5" y2="402.0" stroke="#7d7d7d" stroke-width="0.85"/>
<text transform="translate(16.25 401.96) rotate(-90) scale(0.900 1)" font-size="6.3" fill="#222" text-anchor="middle">20</text>
<line x1="102.1" y1="444.1" x2="102.1" y2="447.7" stroke="#7d7d7d" stroke-width="0.85"/>
<text transform="translate(102.10 457.60) scale(0.900 1)" font-size="6.3" fill="#222" text-anchor="middle">60</text>
<line x1="20.5" y1="366.8" x2="24.5" y2="366.8" stroke="#7d7d7d" stroke-width="0.85"/>
<text transform="translate(16.25 366.82) rotate(-90) scale(0.900 1)" font-size="6.3" fill="#222" text-anchor="middle">40</text>
<line x1="137.4" y1="444.1" x2="137.4" y2="447.7" stroke="#7d7d7d" stroke-width="0.85"/>
<text transform="translate(137.40 457.60) scale(0.900 1)" font-size="6.3" fill="#222" text-anchor="middle">40</text>
<line x1="20.5" y1="331.7" x2="24.5" y2="331.7" stroke="#7d7d7d" stroke-width="0.85"/>
<text transform="translate(16.25 331.68) rotate(-90) scale(0.900 1)" font-size="6.3" fill="#222" text-anchor="middle">60</text>
<line x1="172.7" y1="444.1" x2="172.7" y2="447.7" stroke="#7d7d7d" stroke-width="0.85"/>
<text transform="translate(172.70 457.60) scale(0.900 1)" font-size="6.3" fill="#222" text-anchor="middle">20</text>
<line x1="20.5" y1="296.5" x2="24.5" y2="296.5" stroke="#7d7d7d" stroke-width="0.85"/>
<text transform="translate(16.25 296.54) rotate(-90) scale(0.900 1)" font-size="6.3" fill="#222" text-anchor="middle">80</text>
<line x1="208.0" y1="444.1" x2="208.0" y2="447.7" stroke="#7d7d7d" stroke-width="0.85"/>
<text transform="translate(208.00 457.60) scale(0.900 1)" font-size="6.3" fill="#222" text-anchor="middle">0</text>
<line x1="20.5" y1="261.4" x2="24.5" y2="261.4" stroke="#7d7d7d" stroke-width="0.85"/>
<text transform="translate(16.25 261.40) rotate(-90) scale(0.900 1)" font-size="6.3" fill="#222" text-anchor="middle">100</text>
<text transform="translate(121.00 467.80) scale(0.910 1)" font-size="6.7" fill="#111" text-anchor="middle" font-weight="bold">Specificity (%)</text>
<text transform="translate(5.95 347.50) rotate(-90) scale(0.910 1)" font-size="6.7" fill="#111" text-anchor="middle" font-weight="bold">Sensitivity (%)</text>
<text transform="translate(119.70 353.80) scale(0.910 1)" font-size="6.7" fill="#222" text-anchor="start">AUC: 61.1% (57.5%–64.6%)</text>
<line x1="259.5" y1="443.6" x2="449.7" y2="254.6" stroke="#dcdcdc" stroke-width="1.3"/>
<path d="M266.60 436.20L266.60 435.14L267.85 435.14L267.85 431.96L269.10 431.96L269.10 430.00L271.30 430.00L271.30 429.10L272.15 429.10L272.15 427.17L273.00 427.17L273.00 425.35L274.25 425.35L274.25 424.50L275.50 424.50L275.50 423.30L276.43 423.30L276.43 422.10L277.37 422.10L277.37 419.70L278.30 419.70L278.30 418.50L279.50 418.50L279.50 416.15L280.70 416.15L280.70 414.98L281.90 414.98L281.90 413.80L282.95 413.80L282.95 411.67L284.00 411.67L284.00 409.55L285.07 409.55L285.07 408.50L286.13 408.50L286.13 407.45L287.20 407.45L287.20 405.24L288.13 405.24L288.13 402.92L289.07 402.92L289.07 401.76L290.00 401.76L290.00 400.60L291.30 400.60L291.30 398.50L292.60 398.50L292.60 397.32L293.63 397.32L293.63 394.96L294.67 394.96L294.67 393.78L295.70 393.78L295.70 391.53L296.63 391.53L296.63 389.40L297.57 389.40L297.57 387.27L298.50 387.27L298.50 385.02L299.80 385.02L299.80 382.68L301.10 382.68L301.10 381.50L302.17 381.50L302.17 379.05L303.23 379.05L303.23 376.60L304.30 376.60L304.30 375.53L305.65 375.53L305.65 373.40L307.00 373.40L307.00 372.34L308.20 372.34L308.20 370.22L309.40 370.22L309.40 369.16L310.60 369.16L310.60 368.10L311.67 368.10L311.67 365.70L313.80 365.70L313.80 364.50L314.87 364.50L314.87 363.15L315.93 363.15L315.93 361.80L317.00 361.80L317.00 360.73L318.00 360.73L318.00 359.65L319.00 359.65L319.00 357.50L321.25 357.50L321.25 356.40L323.75 356.40L323.75 356.00L326.25 356.00L326.25 354.00L327.50 354.00L327.50 353.00L328.67 353.00L328.67 350.85L329.83 350.85L329.83 349.77L331.00 349.77L331.00 348.70L332.05 348.70L332.05 346.58L333.10 346.58L333.10 344.46L335.20 344.46L335.20 343.40L336.27 343.40L336.27 341.28L337.35 341.28L337.35 340.22L338.43 340.22L338.43 339.16L339.50 339.16L339.50 337.03L340.55 337.03L340.55 335.95L341.60 335.95L341.60 334.88L343.70 334.88L343.70 333.80L344.77 333.80L344.77 332.80L347.97 332.80L347.97 329.57L349.03 329.57L349.03 328.50L350.10 328.50L350.10 327.36L351.17 327.36L351.17 326.22L352.23 326.22L352.23 323.94L353.30 323.94L353.30 322.80L354.37 322.80L354.37 321.70L355.43 321.70L355.43 320.60L358.63 320.60L358.63 320.00L360.75 320.00L360.75 317.88L361.80 317.88L361.80 316.82L362.85 316.82L362.85 314.70L364.97 314.70L364.97 313.60L368.18 313.60L368.18 311.50L369.25 311.50L369.25 310.45L371.40 310.45L371.40 308.17L373.50 308.17L373.50 306.93L374.55 306.93L374.55 305.70L376.68 305.70L376.68 303.30L378.82 303.30L378.82 302.10L379.90 302.10L379.90 300.90L380.97 300.90L380.97 299.80L384.20 299.80L384.20 299.00L386.40 299.00L386.40 297.80L387.30 297.80L387.30 295.40L388.20 295.40L388.20 294.20L389.35 294.20L389.35 293.10L390.50 293.10L390.50 292.00L391.50 292.00L391.50 291.50L394.63 291.50L394.63 290.00L398.07 290.00L398.07 288.85L399.23 288.85L399.23 287.70L401.53 287.70L401.53 286.60L402.67 286.60L402.67 285.50L403.80 285.50L403.80 283.50L405.10 283.50L405.10 282.50L407.10 282.50L407.10 282.20L409.07 282.20L409.07 281.20L411.00 281.20L411.00 280.10L412.60 280.10L412.60 278.15L413.95 278.15L413.95 277.30L416.37 277.30L416.37 276.00L419.73 276.00L419.73 275.00L420.97 275.00L420.97 274.00L423.55 274.00L423.55 273.30L425.80 273.30L425.80 271.10L428.70 271.10L428.70 269.60L430.70 269.60L430.70 268.10L434.63 268.10L434.63 267.60L436.95 267.60L436.95 267.00L438.30 267.00L438.30 265.70L440.40 265.70L440.40 263.20L441.60 263.20L441.60 261.90L442.80 261.90L442.80 260.60" fill="none" stroke="#1a1a1a" stroke-width="1.0" stroke-linejoin="miter" stroke-linecap="square"/>
<line x1="259.1" y1="443.6" x2="450.1" y2="443.6" stroke="#b0b0b0" stroke-width="1.4"/>
<line x1="259.1" y1="254.6" x2="450.1" y2="254.6" stroke="#8c8c8c" stroke-width="0.9"/>
<line x1="449.7" y1="254.2" x2="449.7" y2="444.0" stroke="#8c8c8c" stroke-width="0.9"/>
<line x1="259.5" y1="254.2" x2="259.5" y2="444.0" stroke="#6c6c6c" stroke-width="0.9"/>
<line x1="266.5" y1="443.6" x2="266.5" y2="447.2" stroke="#666666" stroke-width="0.85"/>
<text transform="translate(266.50 457.60) scale(0.900 1)" font-size="6.3" fill="#222" text-anchor="middle">100</text>
<line x1="255.5" y1="436.8" x2="259.5" y2="436.8" stroke="#8a8a8a" stroke-width="0.85"/>
<text transform="translate(250.75 436.80) rotate(-90) scale(0.900 1)" font-size="6.3" fill="#222" text-anchor="middle">0</text>
<line x1="301.8" y1="443.6" x2="301.8" y2="447.2" stroke="#666666" stroke-width="0.85"/>
<text transform="translate(301.80 457.60) scale(0.900 1)" font-size="6.3" fill="#222" text-anchor="middle">80</text>
<line x1="255.5" y1="401.7" x2="259.5" y2="401.7" stroke="#8a8a8a" stroke-width="0.85"/>
<text transform="translate(250.75 401.72) rotate(-90) scale(0.900 1)" font-size="6.3" fill="#222" text-anchor="middle">20</text>
<line x1="337.1" y1="443.6" x2="337.1" y2="447.2" stroke="#666666" stroke-width="0.85"/>
<text transform="translate(337.10 457.60) scale(0.900 1)" font-size="6.3" fill="#222" text-anchor="middle">60</text>
<line x1="255.5" y1="366.6" x2="259.5" y2="366.6" stroke="#8a8a8a" stroke-width="0.85"/>
<text transform="translate(250.75 366.64) rotate(-90) scale(0.900 1)" font-size="6.3" fill="#222" text-anchor="middle">40</text>
<line x1="372.4" y1="443.6" x2="372.4" y2="447.2" stroke="#666666" stroke-width="0.85"/>
<text transform="translate(372.40 457.60) scale(0.900 1)" font-size="6.3" fill="#222" text-anchor="middle">40</text>
<line x1="255.5" y1="331.6" x2="259.5" y2="331.6" stroke="#8a8a8a" stroke-width="0.85"/>
<text transform="translate(250.75 331.56) rotate(-90) scale(0.900 1)" font-size="6.3" fill="#222" text-anchor="middle">60</text>
<line x1="407.7" y1="443.6" x2="407.7" y2="447.2" stroke="#666666" stroke-width="0.85"/>
<text transform="translate(407.70 457.60) scale(0.900 1)" font-size="6.3" fill="#222" text-anchor="middle">20</text>
<line x1="255.5" y1="296.5" x2="259.5" y2="296.5" stroke="#8a8a8a" stroke-width="0.85"/>
<text transform="translate(250.75 296.48) rotate(-90) scale(0.900 1)" font-size="6.3" fill="#222" text-anchor="middle">80</text>
<line x1="443.0" y1="443.6" x2="443.0" y2="447.2" stroke="#666666" stroke-width="0.85"/>
<text transform="translate(443.00 457.60) scale(0.900 1)" font-size="6.3" fill="#222" text-anchor="middle">0</text>
<line x1="255.5" y1="261.4" x2="259.5" y2="261.4" stroke="#8a8a8a" stroke-width="0.85"/>
<text transform="translate(250.75 261.40) rotate(-90) scale(0.900 1)" font-size="6.3" fill="#222" text-anchor="middle">100</text>
<text transform="translate(356.10 467.80) scale(0.910 1)" font-size="6.7" fill="#111" text-anchor="middle" font-weight="bold">Specificity (%)</text>
<text transform="translate(240.75 347.50) rotate(-90) scale(0.910 1)" font-size="6.7" fill="#111" text-anchor="middle" font-weight="bold">Sensitivity (%)</text>
<text transform="translate(354.50 353.80) scale(0.910 1)" font-size="6.7" fill="#222" text-anchor="start">AUC: 59.2% (55.5%–62.8%)</text>
<line x1="493.8" y1="444.0" x2="684.3" y2="254.0" stroke="#b0b0b0" stroke-width="0.75"/>
<path d="M500.90 436.80L500.90 433.33L501.70 433.33L501.70 426.58L503.00 426.58L503.00 419.17L504.50 419.17L504.50 414.93L506.00 414.93L506.00 410.64L507.20 410.64L507.20 406.34L508.30 406.34L508.30 403.16L509.40 403.16L509.40 399.65L510.90 399.65L510.90 397.20L511.95 397.20L511.95 394.70L513.00 394.70L513.00 393.63L514.05 393.63L514.05 389.37L515.10 389.37L515.10 387.24L516.15 387.24L516.15 384.06L517.20 384.06L517.20 380.88L518.70 380.88L518.70 377.70L519.80 377.70L519.80 376.60L520.90 376.60L520.90 374.20L522.10 374.20L522.10 373.00L523.40 373.00L523.40 371.95L524.70 371.95L524.70 369.83L525.75 369.83L525.75 366.63L526.80 366.63L526.80 364.50L527.80 364.50L527.80 361.20L528.80 361.20L528.80 360.10L529.80 360.10L529.80 356.84L530.85 356.84L530.85 355.76L531.90 355.76L531.90 352.54L532.85 352.54L532.85 349.36L533.80 349.36L533.80 348.30L534.87 348.30L534.87 346.80L537.00 346.80L537.00 345.67L538.07 345.67L538.07 344.53L539.13 344.53L539.13 343.40L542.33 343.40L542.33 341.90L544.45 341.90L544.45 340.40L546.57 340.40L546.57 338.04L547.63 338.04L547.63 335.68L548.70 335.68L548.70 333.30L550.85 333.30L550.85 330.90L551.92 330.90L551.92 328.50L554.07 328.50L554.07 327.25L556.20 327.25L556.20 326.00L557.27 326.00L557.27 324.90L559.40 324.90L559.40 322.62L560.45 322.62L560.45 321.45L561.50 321.45L561.50 318.00L562.57 318.00L562.57 316.90L563.63 316.90L563.63 314.70L564.70 314.70L564.70 313.60L566.83 313.60L566.83 312.80L567.90 312.80L567.90 311.87L568.97 311.87L568.97 310.93L571.10 310.93L571.10 310.00L573.23 310.00L573.23 309.40L574.30 309.40L574.30 307.40L575.70 307.40L575.70 306.40L576.68 306.40L576.68 305.10L581.73 305.10L581.73 303.60L582.80 303.60L582.80 302.40L584.93 302.40L584.93 300.00L586.00 300.00L586.00 299.07L587.03 299.07L587.03 298.13L589.10 298.13L589.10 297.20L591.23 297.20L591.23 295.70L594.45 295.70L594.45 295.10L597.80 295.10L597.80 293.80L599.00 293.80L599.00 292.50L602.32 292.50L602.32 292.20L606.63 292.20L606.63 290.33L607.77 290.33L607.77 289.40L608.90 289.40L608.90 288.23L611.15 288.23L611.15 287.07L613.40 287.07L613.40 285.90L614.40 285.90L614.40 284.93L615.40 284.93L615.40 283.97L616.40 283.97L616.40 283.00L617.40 283.00L617.40 281.65L619.53 281.65L619.53 280.30L621.60 280.30L621.60 279.33L622.60 279.33L622.60 278.37L623.60 278.37L623.60 277.40L625.83 277.40L625.83 276.10L627.07 276.10L627.07 274.80L629.53 274.80L629.53 273.45L630.77 273.45L630.77 272.10L633.23 272.10L633.23 269.90L634.47 269.90L634.47 268.80L636.70 268.80L636.70 266.80L637.70 266.80L637.70 265.80L639.70 265.80L639.70 264.95L640.70 264.95L640.70 264.10L643.70 264.10L643.70 263.20L653.00 263.20L653.00 262.90L658.80 262.90L658.80 261.70L663.25 261.70L663.25 261.10L667.75 261.10L667.75 260.50L677.40 260.50" fill="none" stroke="#1a1a1a" stroke-width="1.0" stroke-linejoin="miter" stroke-linecap="square"/>
<line x1="493.8" y1="253.6" x2="493.8" y2="444.4" stroke="#b8b8b8" stroke-width="1.5"/>
<line x1="493.4" y1="254.0" x2="684.7" y2="254.0" stroke="#b8b8b8" stroke-width="1.5"/>
<line x1="493.4" y1="444.0" x2="684.7" y2="444.0" stroke="#6e6e6e" stroke-width="1.0"/>
<line x1="684.3" y1="253.6" x2="684.3" y2="444.4" stroke="#6e6e6e" stroke-width="1.0"/>
<line x1="501.0" y1="444.0" x2="501.0" y2="447.6" stroke="#b0b0b0" stroke-width="0.85"/>
<text transform="translate(501.00 457.60) scale(0.900 1)" font-size="6.3" fill="#222" text-anchor="middle">100</text>
<line x1="489.8" y1="437.2" x2="493.8" y2="437.2" stroke="#777777" stroke-width="0.85"/>
<text transform="translate(485.35 437.20) rotate(-90) scale(0.900 1)" font-size="6.3" fill="#222" text-anchor="middle">0</text>
<line x1="536.3" y1="444.0" x2="536.3" y2="447.6" stroke="#b0b0b0" stroke-width="0.85"/>
<text transform="translate(536.30 457.60) scale(0.900 1)" font-size="6.3" fill="#222" text-anchor="middle">80</text>
<line x1="489.8" y1="402.0" x2="493.8" y2="402.0" stroke="#777777" stroke-width="0.85"/>
<text transform="translate(485.35 401.96) rotate(-90) scale(0.900 1)" font-size="6.3" fill="#222" text-anchor="middle">20</text>
<line x1="571.6" y1="444.0" x2="571.6" y2="447.6" stroke="#b0b0b0" stroke-width="0.85"/>
<text transform="translate(571.60 457.60) scale(0.900 1)" font-size="6.3" fill="#222" text-anchor="middle">60</text>
<line x1="489.8" y1="366.7" x2="493.8" y2="366.7" stroke="#777777" stroke-width="0.85"/>
<text transform="translate(485.35 366.72) rotate(-90) scale(0.900 1)" font-size="6.3" fill="#222" text-anchor="middle">40</text>
<line x1="606.9" y1="444.0" x2="606.9" y2="447.6" stroke="#b0b0b0" stroke-width="0.85"/>
<text transform="translate(606.90 457.60) scale(0.900 1)" font-size="6.3" fill="#222" text-anchor="middle">40</text>
<line x1="489.8" y1="331.5" x2="493.8" y2="331.5" stroke="#777777" stroke-width="0.85"/>
<text transform="translate(485.35 331.48) rotate(-90) scale(0.900 1)" font-size="6.3" fill="#222" text-anchor="middle">60</text>
<line x1="642.2" y1="444.0" x2="642.2" y2="447.6" stroke="#b0b0b0" stroke-width="0.85"/>
<text transform="translate(642.20 457.60) scale(0.900 1)" font-size="6.3" fill="#222" text-anchor="middle">20</text>
<line x1="489.8" y1="296.2" x2="493.8" y2="296.2" stroke="#777777" stroke-width="0.85"/>
<text transform="translate(485.35 296.24) rotate(-90) scale(0.900 1)" font-size="6.3" fill="#222" text-anchor="middle">80</text>
<line x1="677.5" y1="444.0" x2="677.5" y2="447.6" stroke="#b0b0b0" stroke-width="0.85"/>
<text transform="translate(677.50 457.60) scale(0.900 1)" font-size="6.3" fill="#222" text-anchor="middle">0</text>
<line x1="489.8" y1="261.0" x2="493.8" y2="261.0" stroke="#777777" stroke-width="0.85"/>
<text transform="translate(485.35 261.00) rotate(-90) scale(0.900 1)" font-size="6.3" fill="#222" text-anchor="middle">100</text>
<text transform="translate(590.60 467.80) scale(0.910 1)" font-size="6.7" fill="#111" text-anchor="middle" font-weight="bold">Specificity (%)</text>
<text transform="translate(475.55 347.50) rotate(-90) scale(0.910 1)" font-size="6.7" fill="#111" text-anchor="middle" font-weight="bold">Sensitivity (%)</text>
<text transform="translate(589.30 353.80) scale(0.910 1)" font-size="6.7" fill="#222" text-anchor="start">AUC: 71.9% (68.7%–75.1%)</text>
</g></svg>
</body></html>
